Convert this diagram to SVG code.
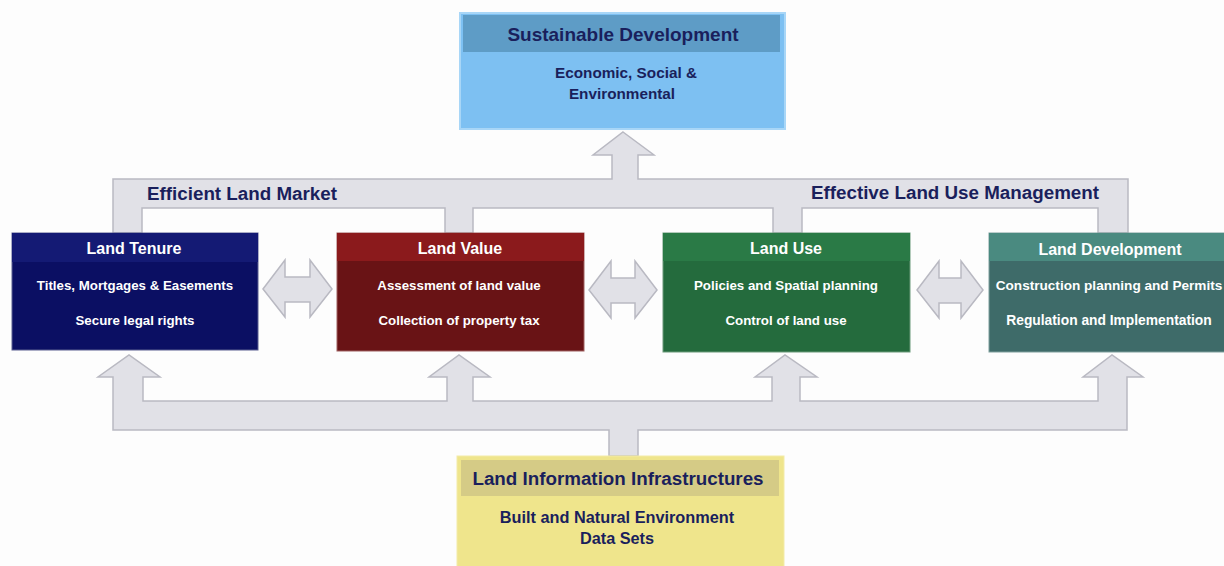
<svg xmlns="http://www.w3.org/2000/svg" width="1224" height="566" viewBox="0 0 1224 566">
<style>
.conn{fill:#e1e1e7;stroke:#b9b9c2;stroke-width:1.5;stroke-linejoin:miter}
.t{font-family:"Liberation Sans",Arial,sans-serif;font-weight:bold;text-anchor:middle}
.nv{fill:#1a1f5c}
.wh{fill:#ffffff}
.h19{font-size:19px}
.h16{font-size:16px}
.b13{font-size:13.3px}
</style>
<rect x="0" y="0" width="1224" height="566" fill="#fdfdfd"/>
<g id="connectors">
<path class="conn" d="M623,132 L654,155 L638,155 L638,179 L1128,179 L1128,233 L1098,233 L1098,208 L802,208 L802,233 L773,233 L773,208 L473,208 L473,233 L445,233 L445,208 L142,208 L142,233 L113,233 L113,179 L612,179 L612,155 L593,155 Z"/>
<path class="conn" d="M609,456 L609,430 L113,430 L113,377 L98,377 L129,355 L160,377 L143,377 L143,401 L447,401 L447,377 L429,377 L459,355 L490,377 L473,377 L473,401 L772,401 L772,377 L755,377 L785,355 L817,377 L800,377 L800,401 L1098,401 L1098,377 L1083,377 L1112,355 L1143,377 L1127,377 L1127,430 L638,430 L638,456 Z"/>
<path class="conn" d="M263,289 L285,260 L285,277 L310,277 L310,260 L332,289 L310,317 L310,302 L285,302 L285,317 Z"/>
<path class="conn" d="M589,290 L611,261 L611,278 L635,278 L635,261 L657,290 L635,318 L635,303 L611,303 L611,318 Z"/>
<path class="conn" d="M917,290 L939,261 L939,278 L961,278 L961,261 L983,290 L961,318 L961,303 L939,303 L939,318 Z"/>
</g>
<text class="t nv" x="242" y="200" style="font-size:18.8px">Efficient Land Market</text>
<text class="t nv" x="955" y="199" style="font-size:18.8px">Effective Land Use Management</text>
<g id="sustainable-development">
<rect x="460" y="13" width="325" height="116" fill="#7dc0f2" stroke="#a8d6f7" stroke-width="2"/>
<rect x="463" y="15" width="317" height="37" fill="#5e9cc6"/>
<text class="t nv h19" x="623" y="41">Sustainable Development</text>
<text class="t nv" x="626" y="78" style="font-size:15.3px">Economic, Social &amp;</text>
<text class="t nv" x="622" y="99" style="font-size:15.3px">Environmental</text>
</g>
<g id="land-tenure">
<rect x="12" y="233" width="246" height="117" fill="#0b0f63" stroke="#5a5e90" stroke-width="1"/>
<rect x="12" y="233" width="246" height="29" fill="#141a74"/>
<text class="t wh h16" x="134" y="254">Land Tenure</text>
<text class="t wh b13" x="135" y="290">Titles, Mortgages &amp; Easements</text>
<text class="t wh b13" x="135" y="325">Secure legal rights</text>
</g>
<g id="land-value">
<rect x="337" y="233" width="247" height="118" fill="#691315" stroke="#a06060" stroke-width="1"/>
<rect x="337" y="233" width="247" height="28" fill="#8b1a1c"/>
<text class="t wh h16" x="460" y="254">Land Value</text>
<text class="t wh b13" x="459" y="290">Assessment of land value</text>
<text class="t wh b13" x="459" y="325">Collection of property tax</text>
</g>
<g id="land-use">
<rect x="663" y="233" width="247" height="119" fill="#246b3d" stroke="#6a9a7a" stroke-width="1"/>
<rect x="663" y="233" width="247" height="28" fill="#2a7a46"/>
<text class="t wh h16" x="786" y="254">Land Use</text>
<text class="t wh b13" x="786" y="290">Policies and Spatial planning</text>
<text class="t wh b13" x="786" y="325">Control of land use</text>
</g>
<g id="land-development">
<rect x="989" y="233" width="240" height="119" fill="#3e6b69" stroke="#7f9f9d" stroke-width="1"/>
<rect x="989" y="233" width="240" height="28" fill="#4a8a80"/>
<text class="t wh h16" x="1110" y="255">Land Development</text>
<text class="t wh" x="1109" y="290" style="font-size:13.6px">Construction planning and Permits</text>
<text class="t wh" x="1109" y="325" style="font-size:13.8px">Regulation and Implementation</text>
</g>
<g id="land-information-infrastructures">
<rect x="457" y="456" width="327" height="115" fill="#efe58c" stroke="#f3eba8" stroke-width="1"/>
<rect x="461" y="460" width="318" height="36" fill="#d5cb86"/>
<text class="t nv" x="618" y="485" style="font-size:18.8px">Land Information Infrastructures</text>
<text class="t nv" x="617" y="523" style="font-size:16.3px">Built and Natural Environment</text>
<text class="t nv" x="617" y="544" style="font-size:16.3px">Data Sets</text>
</g>
</svg>
